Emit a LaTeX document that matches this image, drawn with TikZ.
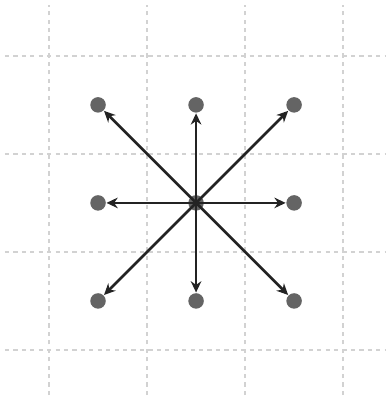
\documentclass[tikz,border=0pt]{standalone}
\usepackage{tikz}
\usetikzlibrary{arrows.meta}
\definecolor{gridgray}{RGB}{210, 210, 210}
\definecolor{dotgray}{RGB}{100, 100, 100}
\definecolor{arrowdark}{RGB}{35, 35, 35}

\begin{document}
\begin{tikzpicture}[x=0.98cm, y=0.98cm, >={Stealth[length=3.2pt, width=3pt]},
    site/.style={circle, fill=dotgray, inner sep=0pt, minimum size=0.155cm},
    gridline/.style={color=gridgray, line width=0.5pt, dash pattern=on 1.2pt off 1.2pt},
    move/.style={->, color=arrowdark, line width=0.75pt}]
        \useasboundingbox (-2, -1.99) rectangle (1.96, 2.07);

        % Grid (dashed)
        \foreach \g in {-1.5, -0.5, 0.5, 1.5} {
            \draw[gridline] (\g, -1.96) -- (\g, 2.02);
            \draw[gridline] (-1.95, \g) -- (1.93, \g);
        }

        % Lattice sites
        \node[site] (c) at (0, 0) {};
        \node[site] (nw) at (-1, 1) {};
        \node[site] (n) at (0, 1) {};
        \node[site] (ne) at (1, 1) {};
        \node[site] (w) at (-1, 0) {};
        \node[site] (e) at (1, 0) {};
        \node[site] (sw) at (-1, -1) {};
        \node[site] (s) at (0, -1) {};
        \node[site] (se) at (1, -1) {};

        % Moves from the centre to the eight neighbours
        \foreach \t in {nw, n, ne, w, e, sw, s, se}
            \draw[move] (c.center) -- (\t);
    \end{tikzpicture}
\end{document}
